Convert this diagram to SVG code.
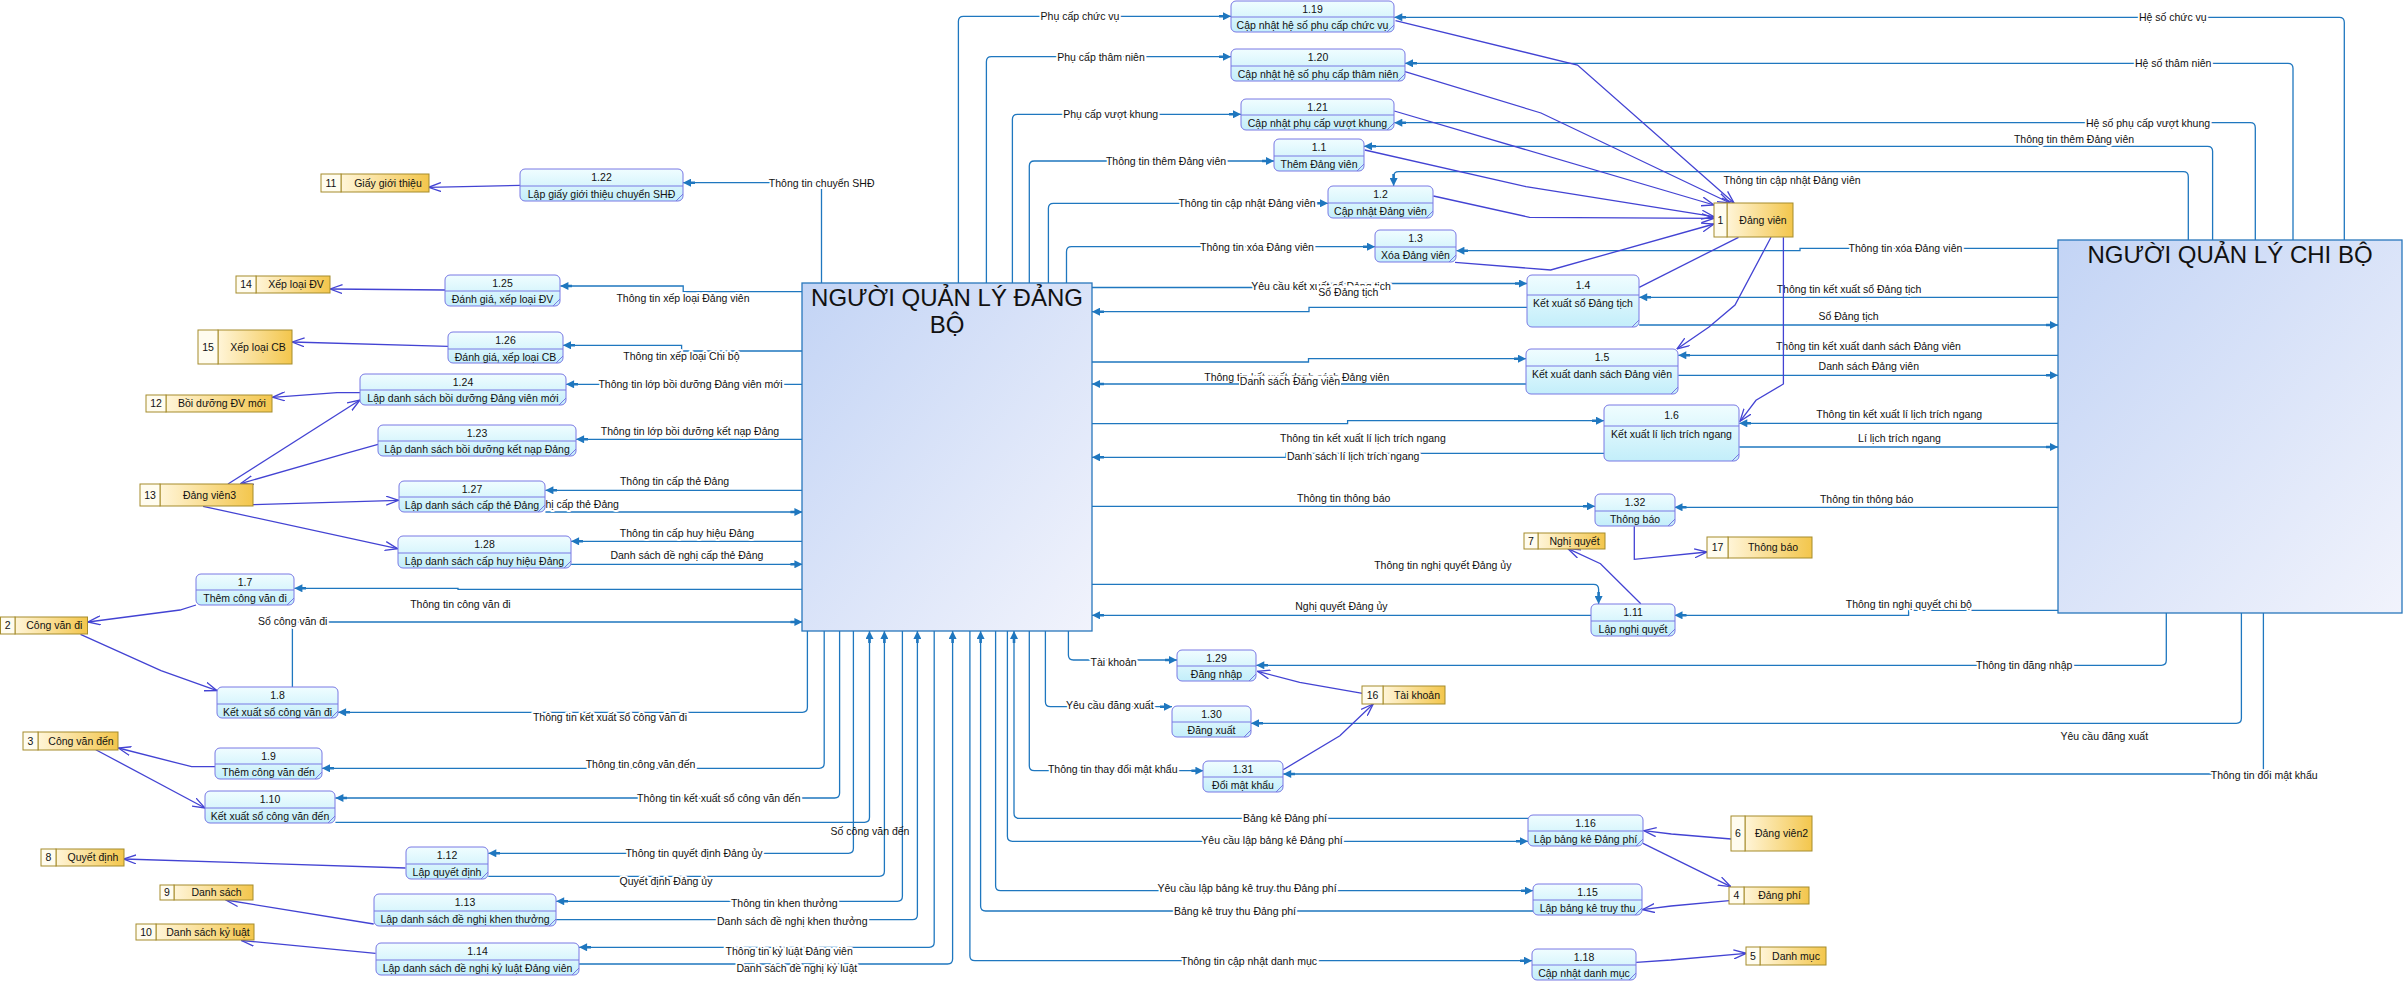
<svg xmlns="http://www.w3.org/2000/svg" width="2404" height="981" viewBox="0 0 2404 981">
<defs>
<linearGradient id="gp" x1="0" y1="0" x2="0" y2="1"><stop offset="0" stop-color="#f0fdff"/><stop offset="1" stop-color="#c3eefa"/></linearGradient>
<linearGradient id="gs" x1="0" y1="0" x2="1" y2="0"><stop offset="0" stop-color="#fff5d8"/><stop offset="1" stop-color="#f3c64c"/></linearGradient>
<linearGradient id="ge" x1="0" y1="0" x2="1" y2="1"><stop offset="0" stop-color="#c3d4f5"/><stop offset="1" stop-color="#f1f3fc"/></linearGradient>
<marker id="ab" viewBox="0 0 12 8" refX="12" refY="4" markerWidth="12" markerHeight="8" markerUnits="userSpaceOnUse" orient="auto"><path d="M0,2.7 H4 V0 L12,4 L4,8 V5.3 H0 z" fill="#1f77bf"/></marker>
<marker id="av" viewBox="0 0 13 10" refX="12.5" refY="5" markerWidth="13" markerHeight="10" markerUnits="userSpaceOnUse" orient="auto"><path d="M0,0.5 L12.5,5 L0,9.5" fill="none" stroke="#4343d3" stroke-width="1.3"/></marker>
</defs>
<style>
.c{fill:none;stroke:#1f77bf;stroke-width:1.3;marker-end:url(#ab)}
.p{fill:none;stroke:#4343d3;stroke-width:1.3;marker-end:url(#av)}
.pn{fill:none;stroke:#4343d3;stroke-width:1.3}
.t{font-family:"Liberation Sans",Arial,sans-serif;font-size:10.5px;fill:#111;text-anchor:middle}
.h{stroke:#fff;stroke-width:4;stroke-linejoin:round;paint-order:stroke}
.wb{fill:#fff}
.proc rect{fill:url(#gp);stroke:#7878e4;stroke-width:1}
.proc line,.proc path{stroke:#7878e4;stroke-width:1;fill:none}
.st rect{stroke:#a58c2c;stroke-width:1}
.st .a{fill:#fffcef}
.st .b{fill:url(#gs)}
.ent rect{fill:url(#ge);stroke:#2877bc;stroke-width:1.3}
.big{font-family:"Liberation Sans",Arial,sans-serif;font-size:24px;fill:#111;text-anchor:middle}
</style>
<rect width="2404" height="981" fill="#fff"/>

<g id="connectors">
<path class="c" d="M958.4,283 V21.3 Q958.4,16.3 963.4,16.3 H1231"/>
<text class="t h" x="1080" y="20.1">Phụ cấp chức vụ</text>
<path class="c" d="M986.4,283 V61.7 Q986.4,56.7 991.4,56.7 H1231"/>
<text class="t h" x="1101" y="60.5">Phụ cấp thâm niên</text>
<path class="c" d="M1012.4,283 V119.3 Q1012.4,114.3 1017.4,114.3 H1241"/>
<text class="t h" x="1110.7" y="118.1">Phụ cấp vượt khung</text>
<path class="c" d="M1029.3,283 V166 Q1029.3,161 1034.3,161 H1274"/>
<text class="t h" x="1166" y="164.8">Thông tin thêm Đảng viên</text>
<path class="c" d="M1048.4,283 V208.3 Q1048.4,203.3 1053.4,203.3 H1328"/>
<text class="t h" x="1247" y="207.1">Thông tin cập nhật Đảng viên</text>
<path class="c" d="M1066.5,283 V251.7 Q1066.5,246.7 1071.5,246.7 H1375"/>
<text class="t h" x="1257" y="250.5">Thông tin xóa Đảng viên</text>
<path class="c" d="M821.5,283 V182.7 H683"/>
<text class="t h" x="821.7" y="186.5">Thông tin chuyển SHĐ</text>

<path class="c" d="M1092,287.5 H1300 V283.5 H1527"/>
<text class="t h" x="1321" y="289.5">Yêu cầu kết xuất sổ Đảng tịch</text>
<path class="c" d="M1527,307.3 H1309 V311.7 H1092"/>
<rect class="wb" x="1317" y="285.5" width="63" height="13"/>
<text class="t" x="1348.4" y="295.8">Sổ Đảng tịch</text>
<path class="c" d="M1092,362 H1308.5 V358.7 H1526"/>
<text class="t h" x="1296.8" y="380.8">Thông tin kết xuất danh sách Đảng viên</text>
<path class="c" d="M1526,384 H1092"/>
<rect class="wb" x="1239" y="375.5" width="102" height="12"/>
<text class="t" x="1290" y="385.1">Danh sách Đảng viên</text>
<path class="c" d="M1092,423.7 H1347.6 V420.7 H1604"/>
<text class="t h" x="1362.9" y="441.5">Thông tin kết xuất lí lịch trích ngang</text>
<path class="c" d="M1604,453.3 H1286 V457.3 H1092"/>
<text class="t h" x="1353.2" y="459.5">Danh sách lí lịch trích ngang</text>
<path class="c" d="M1092,506.3 H1595"/>
<text class="t h" x="1343.7" y="501.5">Thông tin thông báo</text>
<path class="c" d="M1092,584.3 H1593.6 Q1598.6,584.3 1598.6,589.3 V604"/>
<text class="t h" x="1442.8" y="568.5">Thông tin nghị quyết Đảng ủy</text>
<path class="c" d="M1591,615.3 H1092"/>
<text class="t h" x="1341.4" y="610.1">Nghị quyết Đảng ủy</text>

<path class="c" d="M2344.3,240 V22.3 Q2344.3,17.3 2339.3,17.3 H1394.3"/>
<text class="t h" x="2172.8" y="21.1">Hệ số chức vụ</text>
<path class="c" d="M2293,240 V68.3 Q2293,63.3 2288,63.3 H1405"/>
<text class="t h" x="2173.2" y="67.1">Hệ số thâm niên</text>
<path class="c" d="M2255.3,240 V127.7 Q2255.3,122.7 2250.3,122.7 H1394.3"/>
<text class="t h" x="2148" y="126.5">Hệ số phụ cấp vượt khung</text>
<path class="c" d="M2212.6,240 V151.3 Q2212.6,146.3 2207.6,146.3 H1364"/>
<text class="t h" x="2074" y="143.1">Thông tin thêm Đảng viên</text>
<path class="c" d="M2188.3,240 V176.7 Q2188.3,171.7 2183.3,171.7 H1398.6 Q1393.6,171.7 1393.6,176.7 V186"/>
<text class="t h" x="1792" y="183.8">Thông tin cập nhật Đảng viên</text>
<path class="c" d="M2058,248.3 H1800 V250.7 H1456.4"/>
<text class="t h" x="1905.4" y="252.1">Thông tin xóa Đảng viên</text>
<path class="c" d="M2058,297.3 H1639.2"/>
<text class="t h" x="1849" y="292.5">Thông tin kết xuất sổ Đảng tịch</text>
<path class="c" d="M1639.2,325 H2058"/>
<text class="t h" x="1848.6" y="319.5">Sổ Đảng tịch</text>
<path class="c" d="M2058,355.3 H1678.3"/>
<text class="t h" x="1868.4" y="350.1">Thông tin kết xuất danh sách Đảng viên</text>
<path class="c" d="M1678.3,375.3 H2058"/>
<text class="t h" x="1868.8" y="370.1">Danh sách Đảng viên</text>
<path class="c" d="M2058,423.3 H1739.3"/>
<text class="t h" x="1899.2" y="418.1">Thông tin kết xuất lí lịch trích ngang</text>
<path class="c" d="M1739.3,447 H2058"/>
<text class="t h" x="1899.5" y="441.5">Lí lịch trích ngang</text>
<path class="c" d="M2058,507.3 H1674.5"/>
<text class="t h" x="1866.6" y="502.5">Thông tin thông báo</text>
<path class="c" d="M2058,610.3 H1908.6 V615.3 H1674.5"/>
<text class="t h" x="1908.8" y="607.5">Thông tin nghị quyết chi bộ</text>
<path class="c" d="M2166.3,613 V660.3 Q2166.3,665.3 2161.3,665.3 H1256.3"/>
<text class="t h" x="2024.2" y="669.1">Thông tin đăng nhập</text>
<path class="c" d="M2241.4,613 V718.3 Q2241.4,723.3 2236.4,723.3 H1251"/>
<text class="t h" x="2104.3" y="740.1">Yêu cầu đăng xuất</text>
<path class="c" d="M2263.4,613 V774 H1283.2"/>
<text class="t h" x="2264.2" y="778.5">Thông tin đổi mật khẩu</text>

<path class="c" d="M802,291.7 H683.2 V286 H560.4"/>
<text class="t h" x="683" y="301.5">Thông tin xếp loại Đảng viên</text>
<path class="c" d="M802.4,351 H681.6 V345.3 H563"/>
<text class="t h" x="681.4" y="360.1">Thông tin xếp loại Chi bộ</text>
<path class="c" d="M802.4,384.3 H566.1"/>
<text class="t h" x="690.5" y="388.1">Thông tin lớp bồi dưỡng Đảng viên mới</text>
<path class="c" d="M802.4,439.3 H576.1"/>
<text class="t h" x="690" y="434.5">Thông tin lớp bồi dưỡng kết nạp Đảng</text>
<path class="c" d="M802.4,490.3 H545.4"/>
<text class="t h" x="674.5" y="484.5">Thông tin cấp thẻ Đảng</text>
<path class="c" d="M545.4,512 H802.4"/>
<text class="t h" x="542.5" y="507.5">Danh sách đề nghị cấp thẻ Đảng</text>
<path class="c" d="M802.4,541.3 H571.1"/>
<text class="t h" x="687" y="536.5">Thông tin cấp huy hiệu Đảng</text>
<path class="c" d="M571.1,564.3 H802.4"/>
<text class="t h" x="686.9" y="558.5">Danh sách đề nghị cấp thẻ Đảng</text>
<path class="c" d="M802.4,589.3 H458 V588.3 H294.4"/>
<text class="t h" x="460.4" y="608.1">Thông tin công văn đi</text>
<path class="c" d="M292.4,687.3 V622 H802.4"/>
<text class="t h" x="292.7" y="625.1">Sổ công văn đi</text>

<path class="c" d="M807.4,631 V707.3 Q807.4,712.3 802.4,712.3 H338.1"/>
<text class="t h" x="610" y="720.5">Thông tin kết xuất sổ công văn đi</text>
<path class="c" d="M824.2,631 V763.3 Q824.2,768.3 819.2,768.3 H322"/>
<text class="t h" x="640.5" y="767.8">Thông tin công văn đến</text>
<path class="c" d="M839.6,631 V793 Q839.6,798 834.6,798 H335.4"/>
<text class="t h" x="718.8" y="801.8">Thông tin kết xuất sổ công văn đến</text>
<path class="c" d="M335.4,822.3 H864.5 Q869.5,822.3 869.5,817.3 V631"/>
<path class="c" d="M853.4,631 V848.3 Q853.4,853.3 848.4,853.3 H488.3"/>
<text class="t h" x="694" y="857.1">Thông tin quyết định Đảng ủy</text>
<path class="c" d="M488.3,876.3 H879.4 Q884.4,876.3 884.4,871.3 V631"/>
<text class="t h" x="666" y="884.5">Quyết định Đảng ủy</text>
<path class="c" d="M902.4,631 V896.3 Q902.4,901.3 897.4,901.3 H556.2"/>
<text class="t h" x="784.3" y="907.1">Thông tin khen thưởng</text>
<path class="c" d="M556.2,919.7 H912.4 Q917.4,919.7 917.4,914.7 V631"/>
<text class="t h" x="792.3" y="924.5">Danh sách đề nghị khen thưởng</text>
<path class="c" d="M934.2,631 V942.3 Q934.2,947.3 929.2,947.3 H579.1"/>
<text class="t h" x="789.2" y="954.5">Thông tin kỷ luật Đảng viên</text>
<path class="c" d="M579.1,964 H947.6 Q952.6,964 952.6,959 V631"/>
<text class="t h" x="796.8" y="972.1">Danh sách đề nghị kỷ luật</text>
<text class="t" x="870" y="834.5">Số công văn đến</text>
<path class="c" d="M969.9,631 V955.7 Q969.9,960.7 974.9,960.7 H1532"/>
<text class="t h" x="1249" y="964.5">Thông tin cập nhật danh mục</text>
<path class="c" d="M1533,911 H985.6 Q980.6,911 980.6,906 V631"/>
<text class="t h" x="1235" y="914.5">Bảng kê truy thu Đảng phí</text>
<path class="c" d="M995.6,631 V885.7 Q995.6,890.7 1000.6,890.7 H1533"/>
<text class="t h" x="1247" y="892.1">Yêu cầu lập bảng kê truy thu Đảng phí</text>
<path class="c" d="M1007.4,631 V836.3 Q1007.4,841.3 1012.4,841.3 H1528"/>
<text class="t h" x="1272" y="843.8">Yêu cầu lập bảng kê Đảng phí</text>
<path class="c" d="M1528,818.3 H1019 Q1014,818.3 1014,813.3 V631"/>
<text class="t h" x="1285" y="821.5">Bảng kê Đảng phí</text>
<path class="c" d="M1029.3,631 V765.7 Q1029.3,770.7 1034.3,770.7 H1203.4"/>
<text class="t h" x="1112.7" y="772.5">Thông tin thay đổi mật khẩu</text>
<path class="c" d="M1045.4,631 V701.7 Q1045.4,706.7 1050.4,706.7 H1172"/>
<text class="t h" x="1109.8" y="708.5">Yêu cầu đăng xuất</text>
<path class="c" d="M1068.4,631 V655 Q1068.4,660 1073.4,660 H1177"/>
<text class="t h" x="1113.6" y="666.1">Tài khoản</text>

<path class="p" d="M520.5,185.3 L428.5,187.3"/>
<path class="p" d="M445,290 L330,289"/>
<path class="p" d="M448,346.3 L292,342"/>
<path class="p" d="M360,392.7 L337,392.7 L272.5,397.3"/>
<path class="p" d="M228,484 L360,400"/>
<path class="p" d="M378,444.3 L345,453.7 L240.7,483.5"/>
<path class="p" d="M252.6,504.7 L398.6,500.3"/>
<path class="p" d="M203,506.3 L397.5,548.7"/>
<path class="p" d="M196,605 L180,610 L88,622"/>
<path class="p" d="M80.5,634.3 L161,670.7 L217,690.7"/>
<path class="p" d="M215,766.7 L191.6,766.7 L118.4,748"/>
<path class="p" d="M95.8,749.7 L205,808"/>
<path class="p" d="M405.5,868 L123.8,859"/>
<path class="p" d="M373.7,924 L226,900"/>
<path class="p" d="M375.6,953.3 L241.5,940.5"/>
<path class="p" d="M1395.5,20.7 L1577.5,65 L1734,203"/>
<path class="p" d="M1405,71.7 L1541,113 L1730,203"/>
<path class="p" d="M1394.3,111 L1714,205"/>
<path class="p" d="M1364.8,150 L1526,186.7 L1714,216.7"/>
<path class="p" d="M1433.4,196 L1529.6,217.3 L1714,218.3"/>
<path class="p" d="M1455,262.3 L1550.7,270 L1714,224"/>
<path class="pn" d="M1738.5,237.3 L1639.2,287.3"/>
<path class="p" d="M1771,237.3 L1735,305 L1709,327 L1677,349"/>
<path class="p" d="M1783.4,237.3 V384 L1756,400.3 L1740,421.3"/>
<path class="p" d="M1634.3,526.3 V559.3 L1707,552"/>
<path class="p" d="M1640.8,603.7 L1600.5,563.7 L1568,548.7"/>
<path class="p" d="M1362.5,693.3 L1299.7,682.3 L1257.5,671.3"/>
<path class="p" d="M1283.2,769.7 L1339.9,735.7 L1373.2,704"/>
<path class="p" d="M1731.2,839 L1671.4,834 L1643.8,830.7"/>
<path class="p" d="M1643,843.3 L1730.8,886.7"/>
<path class="p" d="M1729.3,900.7 L1671,906 L1642.3,909.7"/>
<path class="p" d="M1636.2,962.3 L1671,960 L1746.2,953.3"/>
</g>

<g id="e_dangbo" class="ent"><rect x="802" y="283" width="290" height="348"/><text class="big" x="947" y="305.5">NGƯỜI QUẢN LÝ ĐẢNG</text><text class="big" x="947" y="332.5">BỘ</text></g>
<g id="e_chibo" class="ent"><rect x="2058" y="240" width="344" height="373"/><text class="big" x="2230" y="263">NGƯỜI QUẢN LÝ CHI BỘ</text></g>

<g id="p1_19" class="proc"><rect x="1231" y="1" width="163" height="31" rx="5"/><line x1="1231" y1="17" x2="1394" y2="17"/><path d="M1387,32 L1394,25"/><text class="t" x="1312.5" y="12.8">1.19</text><text class="t" x="1312.5" y="29.3">Cập nhật hệ số phụ cấp chức vụ</text></g>
<g id="p1_20" class="proc"><rect x="1231" y="49" width="174" height="32" rx="5"/><line x1="1231" y1="66" x2="1405" y2="66"/><path d="M1398,81 L1405,74"/><text class="t" x="1318" y="61.3">1.20</text><text class="t" x="1318" y="78.3">Cập nhật hệ số phụ cấp thâm niên</text></g>
<g id="p1_21" class="proc"><rect x="1241" y="99" width="153" height="31" rx="5"/><line x1="1241" y1="115" x2="1394" y2="115"/><path d="M1387,130 L1394,123"/><text class="t" x="1317.5" y="110.8">1.21</text><text class="t" x="1317.5" y="127.3">Cập nhật phụ cấp vượt khung</text></g>
<g id="p1_1" class="proc"><rect x="1274" y="139" width="90" height="32" rx="5"/><line x1="1274" y1="156" x2="1364" y2="156"/><path d="M1357,171 L1364,164"/><text class="t" x="1319" y="151.3">1.1</text><text class="t" x="1319" y="168.3">Thêm Đảng viên</text></g>
<g id="p1_2" class="proc"><rect x="1328" y="186" width="105" height="32" rx="5"/><line x1="1328" y1="203" x2="1433" y2="203"/><path d="M1426,218 L1433,211"/><text class="t" x="1380.5" y="198.3">1.2</text><text class="t" x="1380.5" y="215.3">Cập nhật Đảng viên</text></g>
<g id="p1_3" class="proc"><rect x="1375" y="230" width="81" height="32" rx="5"/><line x1="1375" y1="247" x2="1456" y2="247"/><path d="M1449,262 L1456,255"/><text class="t" x="1415.5" y="242.3">1.3</text><text class="t" x="1415.5" y="259.3">Xóa Đảng viên</text></g>
<g id="p1_4" class="proc"><rect x="1527" y="275" width="112" height="52" rx="5"/><line x1="1527" y1="295" x2="1639" y2="295"/><path d="M1632,327 L1639,320"/><text class="t" x="1583" y="288.8">1.4</text><text class="t" x="1583" y="307.3">Kết xuất sổ Đảng tịch</text></g>
<g id="p1_5" class="proc"><rect x="1526" y="349" width="152" height="45" rx="5"/><line x1="1526" y1="366" x2="1678" y2="366"/><path d="M1671,394 L1678,387"/><text class="t" x="1602" y="361.3">1.5</text><text class="t" x="1602" y="378.3">Kết xuất danh sách Đảng viên</text></g>
<g id="p1_6" class="proc"><rect x="1604" y="405" width="135" height="56" rx="5"/><line x1="1604" y1="426" x2="1739" y2="426"/><path d="M1732,461 L1739,454"/><text class="t" x="1671.5" y="419.3">1.6</text><text class="t" x="1671.5" y="438.3">Kết xuất lí lịch trích ngang</text></g>
<g id="p1_32" class="proc"><rect x="1595" y="494" width="80" height="32" rx="5"/><line x1="1595" y1="511" x2="1675" y2="511"/><path d="M1668,526 L1675,519"/><text class="t" x="1635" y="506.3">1.32</text><text class="t" x="1635" y="523.3">Thông báo</text></g>
<g id="p1_11" class="proc"><rect x="1591" y="604" width="84" height="32" rx="5"/><line x1="1591" y1="621" x2="1675" y2="621"/><path d="M1668,636 L1675,629"/><text class="t" x="1633" y="616.3">1.11</text><text class="t" x="1633" y="633.3">Lập nghị quyết</text></g>
<g id="p1_29" class="proc"><rect x="1177" y="650" width="79" height="31" rx="5"/><line x1="1177" y1="666" x2="1256" y2="666"/><path d="M1249,681 L1256,674"/><text class="t" x="1216.5" y="661.8">1.29</text><text class="t" x="1216.5" y="678.3">Đăng nhập</text></g>
<g id="p1_30" class="proc"><rect x="1172" y="706" width="79" height="31" rx="5"/><line x1="1172" y1="722" x2="1251" y2="722"/><path d="M1244,737 L1251,730"/><text class="t" x="1211.5" y="717.8">1.30</text><text class="t" x="1211.5" y="734.3">Đăng xuất</text></g>
<g id="p1_31" class="proc"><rect x="1203" y="761" width="80" height="31" rx="5"/><line x1="1203" y1="777" x2="1283" y2="777"/><path d="M1276,792 L1283,785"/><text class="t" x="1243" y="772.8">1.31</text><text class="t" x="1243" y="789.3">Đổi mật khẩu</text></g>
<g id="p1_16" class="proc"><rect x="1528" y="815" width="115" height="31" rx="5"/><line x1="1528" y1="831" x2="1643" y2="831"/><path d="M1636,846 L1643,839"/><text class="t" x="1585.5" y="826.8">1.16</text><text class="t" x="1585.5" y="843.3">Lập bảng kê Đảng phí</text></g>
<g id="p1_15" class="proc"><rect x="1533" y="884" width="109" height="31" rx="5"/><line x1="1533" y1="900" x2="1642" y2="900"/><path d="M1635,915 L1642,908"/><text class="t" x="1587.5" y="895.8">1.15</text><text class="t" x="1587.5" y="912.3">Lập bảng kê truy thu</text></g>
<g id="p1_18" class="proc"><rect x="1532" y="949" width="104" height="31" rx="5"/><line x1="1532" y1="965" x2="1636" y2="965"/><path d="M1629,980 L1636,973"/><text class="t" x="1584" y="960.8">1.18</text><text class="t" x="1584" y="977.3">Cập nhật danh mục</text></g>
<g id="p1_22" class="proc"><rect x="520" y="169" width="163" height="32" rx="5"/><line x1="520" y1="186" x2="683" y2="186"/><path d="M676,201 L683,194"/><text class="t" x="601.5" y="181.3">1.22</text><text class="t" x="601.5" y="198.3">Lập giấy giới thiệu chuyển SHĐ</text></g>
<g id="p1_25" class="proc"><rect x="445" y="275" width="115" height="31" rx="5"/><line x1="445" y1="291" x2="560" y2="291"/><path d="M553,306 L560,299"/><text class="t" x="502.5" y="286.8">1.25</text><text class="t" x="502.5" y="303.3">Đánh giá, xếp loại ĐV</text></g>
<g id="p1_26" class="proc"><rect x="448" y="332" width="115" height="31" rx="5"/><line x1="448" y1="349" x2="563" y2="349"/><path d="M556,363 L563,356"/><text class="t" x="505.5" y="344.3">1.26</text><text class="t" x="505.5" y="361.3">Đánh giá, xếp loại CB</text></g>
<g id="p1_24" class="proc"><rect x="360" y="374" width="206" height="31" rx="5"/><line x1="360" y1="390" x2="566" y2="390"/><path d="M559,405 L566,398"/><text class="t" x="463" y="385.8">1.24</text><text class="t" x="463" y="402.3">Lập danh sách bồi dưỡng Đảng viên mới</text></g>
<g id="p1_23" class="proc"><rect x="378" y="425" width="198" height="31" rx="5"/><line x1="378" y1="441" x2="576" y2="441"/><path d="M569,456 L576,449"/><text class="t" x="477" y="436.8">1.23</text><text class="t" x="477" y="453.3">Lập danh sách bồi dưỡng kết nạp Đảng</text></g>
<g id="p1_27" class="proc"><rect x="399" y="481" width="146" height="31" rx="5"/><line x1="399" y1="497" x2="545" y2="497"/><path d="M538,512 L545,505"/><text class="t" x="472" y="492.8">1.27</text><text class="t" x="472" y="509.3">Lập danh sách cấp thẻ Đảng</text></g>
<g id="p1_28" class="proc"><rect x="398" y="536" width="173" height="32" rx="5"/><line x1="398" y1="553" x2="571" y2="553"/><path d="M564,568 L571,561"/><text class="t" x="484.5" y="548.3">1.28</text><text class="t" x="484.5" y="565.3">Lập danh sách cấp huy hiệu Đảng</text></g>
<g id="p1_7" class="proc"><rect x="196" y="574" width="98" height="31" rx="5"/><line x1="196" y1="590" x2="294" y2="590"/><path d="M287,605 L294,598"/><text class="t" x="245" y="585.8">1.7</text><text class="t" x="245" y="602.3">Thêm công văn đi</text></g>
<g id="p1_8" class="proc"><rect x="217" y="687" width="121" height="31" rx="5"/><line x1="217" y1="704" x2="338" y2="704"/><path d="M331,718 L338,711"/><text class="t" x="277.5" y="699.3">1.8</text><text class="t" x="277.5" y="716.3">Kết xuất sổ công văn đi</text></g>
<g id="p1_9" class="proc"><rect x="215" y="748" width="107" height="31" rx="5"/><line x1="215" y1="764" x2="322" y2="764"/><path d="M315,779 L322,772"/><text class="t" x="268.5" y="759.8">1.9</text><text class="t" x="268.5" y="776.3">Thêm công văn đến</text></g>
<g id="p1_10" class="proc"><rect x="205" y="791" width="130" height="32" rx="5"/><line x1="205" y1="808" x2="335" y2="808"/><path d="M328,823 L335,816"/><text class="t" x="270" y="803.3">1.10</text><text class="t" x="270" y="820.3">Kết xuất sổ công văn đến</text></g>
<g id="p1_12" class="proc"><rect x="406" y="847" width="82" height="32" rx="5"/><line x1="406" y1="864" x2="488" y2="864"/><path d="M481,879 L488,872"/><text class="t" x="447" y="859.3">1.12</text><text class="t" x="447" y="876.3">Lập quyết định</text></g>
<g id="p1_13" class="proc"><rect x="374" y="894" width="182" height="32" rx="5"/><line x1="374" y1="911" x2="556" y2="911"/><path d="M549,926 L556,919"/><text class="t" x="465" y="906.3">1.13</text><text class="t" x="465" y="923.3">Lập danh sách đề nghị khen thưởng</text></g>
<g id="p1_14" class="proc"><rect x="376" y="943" width="203" height="32" rx="5"/><line x1="376" y1="960" x2="579" y2="960"/><path d="M572,975 L579,968"/><text class="t" x="477.5" y="955.3">1.14</text><text class="t" x="477.5" y="972.3">Lập danh sách đề nghị kỷ luật Đảng viên</text></g>

<g id="s1" class="st"><rect class="b" x="1727" y="203" width="66" height="34"/><rect class="a" x="1714" y="203" width="13" height="34"/><text class="t" x="1720.5" y="223.8">1</text><text class="t" x="1763" y="223.8">Đảng viên</text></g>
<g id="s2" class="st"><rect class="b" x="15" y="617" width="72.5" height="17"/><rect class="a" x="0.5" y="617" width="14.5" height="17"/><text class="t" x="7.7" y="629.3">2</text><text class="t" x="54.3" y="629.3">Công văn đi</text></g>
<g id="s3" class="st"><rect class="b" x="38" y="732" width="80" height="18"/><rect class="a" x="23" y="732" width="15" height="18"/><text class="t" x="30.5" y="744.8">3</text><text class="t" x="81" y="744.8">Công văn đến</text></g>
<g id="s4" class="st"><rect class="b" x="1744" y="887" width="65" height="17"/><rect class="a" x="1729" y="887" width="15" height="17"/><text class="t" x="1736.5" y="899.3">4</text><text class="t" x="1779.5" y="899.3">Đảng phí</text></g>
<g id="s5" class="st"><rect class="b" x="1760" y="947" width="66" height="18"/><rect class="a" x="1746" y="947" width="14" height="18"/><text class="t" x="1753" y="959.8">5</text><text class="t" x="1796" y="959.8">Danh mục</text></g>
<g id="s6" class="st"><rect class="b" x="1745" y="816" width="67" height="35"/><rect class="a" x="1731" y="816" width="14" height="35"/><text class="t" x="1738" y="837.3">6</text><text class="t" x="1781.5" y="837.3">Đảng viên2</text></g>
<g id="s7" class="st"><rect class="b" x="1538" y="533" width="67" height="16"/><rect class="a" x="1524" y="533" width="14" height="16"/><text class="t" x="1531" y="544.8">7</text><text class="t" x="1574.5" y="544.8">Nghị quyết</text></g>
<g id="s8" class="st"><rect class="b" x="56" y="849" width="68" height="17"/><rect class="a" x="41" y="849" width="15" height="17"/><text class="t" x="48.5" y="861.3">8</text><text class="t" x="93" y="861.3">Quyết định</text></g>
<g id="s9" class="st"><rect class="b" x="174" y="885" width="79" height="15"/><rect class="a" x="160" y="885" width="14" height="15"/><text class="t" x="167" y="896.3">9</text><text class="t" x="216.5" y="896.3">Danh sách</text></g>
<g id="s10" class="st"><rect class="b" x="156" y="924" width="98" height="16"/><rect class="a" x="136" y="924" width="20" height="16"/><text class="t" x="146" y="935.8">10</text><text class="t" x="208" y="935.8">Danh sách kỷ luật</text></g>
<g id="s11" class="st"><rect class="b" x="341" y="174" width="88" height="18"/><rect class="a" x="321" y="174" width="20" height="18"/><text class="t" x="331" y="186.8">11</text><text class="t" x="388" y="186.8">Giấy giới thiệu</text></g>
<g id="s12" class="st"><rect class="b" x="166" y="395" width="106" height="17"/><rect class="a" x="146" y="395" width="20" height="17"/><text class="t" x="156" y="407.3">12</text><text class="t" x="222" y="407.3">Bồi dưỡng ĐV mới</text></g>
<g id="s13" class="st"><rect class="b" x="160" y="484" width="93" height="22"/><rect class="a" x="140" y="484" width="20" height="22"/><text class="t" x="150" y="498.8">13</text><text class="t" x="209.5" y="498.8">Đảng viên3</text></g>
<g id="s14" class="st"><rect class="b" x="256" y="276" width="74" height="17"/><rect class="a" x="236" y="276" width="20" height="17"/><text class="t" x="246" y="288.3">14</text><text class="t" x="296" y="288.3">Xếp loại ĐV</text></g>
<g id="s15" class="st"><rect class="b" x="218" y="330" width="74" height="34"/><rect class="a" x="198" y="330" width="20" height="34"/><text class="t" x="208" y="350.8">15</text><text class="t" x="258" y="350.8">Xếp loại CB</text></g>
<g id="s16" class="st"><rect class="b" x="1383" y="686" width="62" height="18"/><rect class="a" x="1362" y="686" width="21" height="18"/><text class="t" x="1372.5" y="698.8">16</text><text class="t" x="1417" y="698.8">Tài khoản</text></g>
<g id="s17" class="st"><rect class="b" x="1728" y="537" width="84" height="21"/><rect class="a" x="1707" y="537" width="21" height="21"/><text class="t" x="1717.5" y="551.3">17</text><text class="t" x="1773" y="551.3">Thông báo</text></g>
</svg>
